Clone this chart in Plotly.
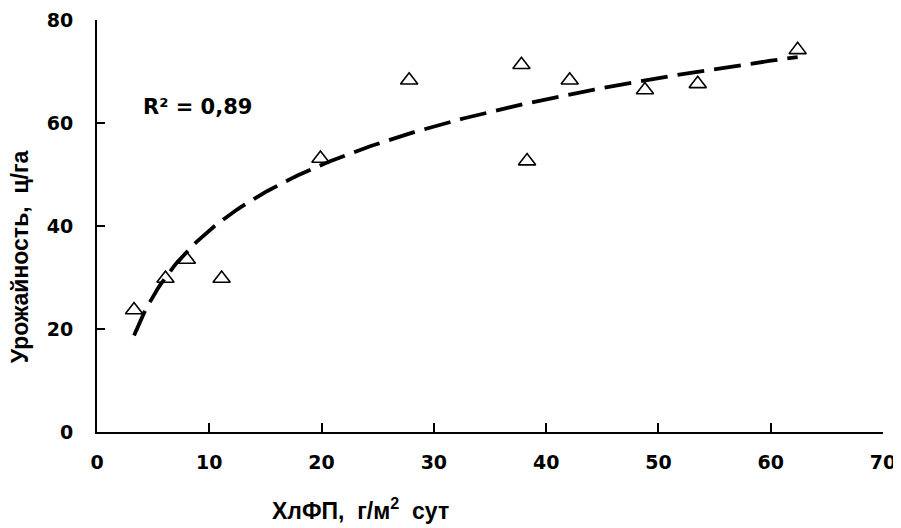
import numpy as np
import plotly.graph_objects as go

# Data
chl_fp = [3.3, 6.1, 8.0, 11.1, 19.9, 27.8, 37.8, 38.3, 42.1, 48.8, 53.5, 62.4]
yield_cha = [23.7, 29.8, 33.5, 29.8, 53.1, 68.3, 71.3, 52.6, 68.3, 66.4, 67.6, 74.2]
x_ticks = [0, 10, 20, 30, 40, 50, 60, 70]
y_ticks = [0, 20, 40, 60, 80]
r2_label = "R² = 0,89"

# Logarithmic trendline fitted from the data
xa = np.array(chl_fp)
ya = np.array(yield_cha)
a, b = np.polyfit(np.log(xa), ya, 1)
xt = np.linspace(xa.min(), xa.max(), 200)
yt = a * np.log(xt) + b

fig = go.Figure()
fig.add_trace(go.Scatter(
    x=xt, y=yt, mode="lines",
    line=dict(color="black", width=3.8, dash="27px,10px"),
    hoverinfo="skip", showlegend=False))
fig.add_trace(go.Scatter(
    x=chl_fp, y=yield_cha, mode="markers",
    marker=dict(symbol="triangle-up-open", size=15, color="black",
                line=dict(color="black", width=1.6)),
    showlegend=False))

OFF = 8  # page body margin
W, H = 901 - OFF, 528 - OFF
L, R, T, B = 96.7, 882.7, 20, 432  # plot area in page pixels
PW, PH = R - L, B - T

def px(x):
    return (x - L) / PW

def py(y):
    return (B - y) / PH

tickfont = dict(family="DejaVu Sans", size=19, color="black", weight="bold")
titlefont = dict(family="Liberation Sans, Arial, sans-serif", size=23, color="black")

fig.update_layout(
    width=W, height=H,
    margin=dict(l=L - OFF, r=W - (R - OFF), t=T - OFF, b=H - (B - OFF), autoexpand=False),
    paper_bgcolor="white", plot_bgcolor="white",
    xaxis=dict(range=[0, 70], tickvals=x_ticks, showgrid=False, zeroline=False,
               showline=True, linecolor="black", linewidth=2, automargin=False,
               ticks="inside", ticklen=9, tickwidth=2, tickcolor="black",
               ticklabelstandoff=12, ticklabeloverflow="allow", tickfont=tickfont),
    yaxis=dict(range=[0, 80], tickvals=y_ticks, showgrid=False, zeroline=False,
               showline=True, linecolor="black", linewidth=2, automargin=False,
               ticks="inside", ticklen=8, tickwidth=2, tickcolor="black",
               ticklabelstandoff=18, ticklabeloverflow="allow", tickfont=tickfont),
)

fig.add_annotation(xref="paper", yref="paper", x=px(141), y=py(107),
                   xanchor="left", yanchor="middle", showarrow=False,
                   text="<b>" + r2_label + "</b>",
                   font=dict(family="DejaVu Sans", size=21, color="black"))
fig.add_annotation(xref="paper", yref="paper", x=px(270), y=py(509),
                   xanchor="left", yanchor="middle", showarrow=False,
                   text="<b>ХлФП,  г/м<sup>2</sup>  сут</b>",
                   font=titlefont)
fig.add_annotation(xref="paper", yref="paper", x=px(20), y=py(257),
                   xanchor="center", yanchor="middle", showarrow=False, textangle=-90,
                   text="<b>Урожайность,  ц/га</b>",
                   font=titlefont)

fig.write_html("out.html")
